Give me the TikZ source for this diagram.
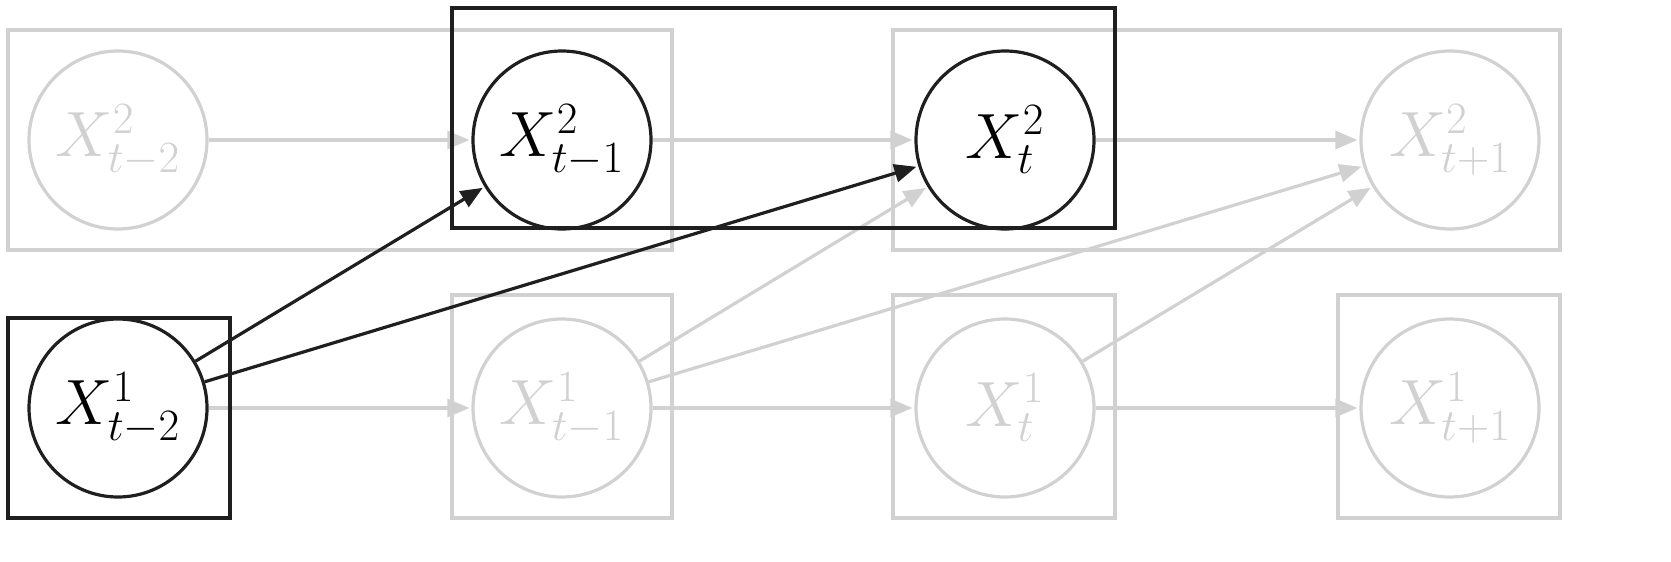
\RequirePackage{fix-cm}
\documentclass[tikz,border=0pt]{standalone}
\usetikzlibrary{arrows.meta}
\begin{document}
\begin{tikzpicture}[x=0.5pt,y=-0.5pt,
  lg/.style={draw=black!18,line width=1.6pt},
  dk/.style={draw=black!88,line width=1.6pt},
  v/.style={circle,minimum size=89pt,inner sep=0pt,font=\fontsize{32}{38}\selectfont},
  vg/.style={v,lg,text=black!18},
  vd/.style={v,dk,text=black},
  eg/.style={lg,-{Triangle[length=11pt,width=9pt]},shorten >=1pt},
  ed/.style={dk,-{Triangle[length=11pt,width=9pt]},shorten >=1pt}]
\useasboundingbox (0,0) rectangle (1671,562);
% gray boxes
\draw[lg] (8,30) rectangle (672,250);
\draw[lg] (893,30) rectangle (1560,250);
\draw[lg] (452,295) rectangle (672,518);
\draw[lg] (893,295) rectangle (1115,518);
\draw[lg] (1338,295) rectangle (1560,518);
% nodes
\node[vg] (a2) at (118,140) {$X^2_{t-2}$};
\node[vd] (b2) at (562,140) {$X^2_{t-1}$};
\node[vd] (c2) at (1005,140) {$X^2_{t}$};
\node[vg] (d2) at (1450,140) {$X^2_{t+1}$};
\node[vd] (a1) at (118,408) {$X^1_{t-2}$};
\node[vg] (b1) at (562,408) {$X^1_{t-1}$};
\node[vg] (c1) at (1005,408) {$X^1_{t}$};
\node[vg] (d1) at (1450,408) {$X^1_{t+1}$};
% gray edges
\draw[eg] (a2) -- (b2);
\draw[eg] (b2) -- (c2);
\draw[eg] (c2) -- (d2);
\draw[eg] (a1) -- (b1);
\draw[eg] (b1) -- (c1);
\draw[eg] (c1) -- (d1);
\draw[eg] (b1) -- (c2);
\draw[eg] (b1) -- (d2);
\draw[eg] (c1) -- (d2);
% black edges
\draw[ed] (a1) -- (b2);
\draw[ed] (a1) -- (c2);
% black boxes
\draw[dk] (8,318) rectangle (230,518);
\draw[dk] (452,8) rectangle (1115,228);
\end{tikzpicture}
\end{document}
